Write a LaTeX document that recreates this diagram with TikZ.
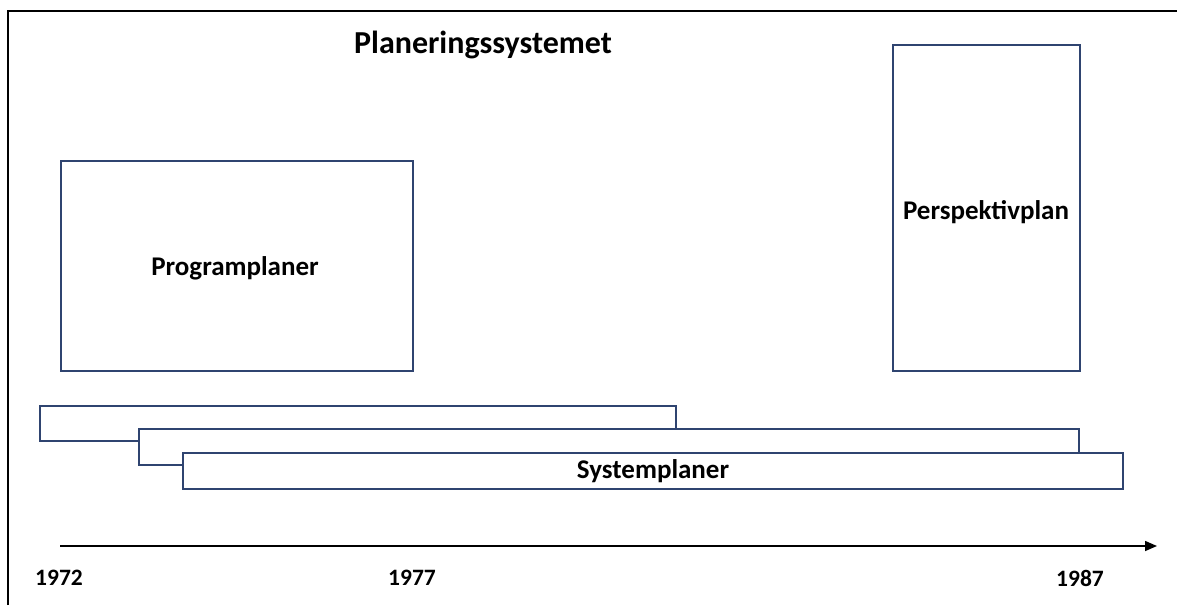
\documentclass[tikz,border=0pt]{standalone}
\usepackage{fontspec}
\setmainfont{Carlito}
\usetikzlibrary{arrows.meta}
\definecolor{boxblue}{HTML}{2F4470}
\tikzset{
  planbox/.style={draw=boxblue, line width=1.5pt, fill=white, inner sep=0pt, anchor=north west},
  lbl/.style={font=\bfseries\fontsize{27}{32}\selectfont, inner sep=0pt},
  yr/.style={font=\bfseries\fontsize{23.5}{28}\selectfont, inner sep=0pt},
}
\begin{document}
\begin{tikzpicture}[x=1pt,y=-1pt]
\useasboundingbox (0,0) rectangle (1177,605);
\draw[line width=2pt] (8,605) -- (8,11) -- (1177,11);
\node[font=\bfseries\fontsize{32}{38}\selectfont, inner sep=0pt] (title) at (483,45) {Planeringssystemet};
\node[planbox, minimum width=352pt, minimum height=210pt] (prog) at (60,160) {};
\node[lbl] (progl) at (235,268) {Programplaner};
\node[planbox, minimum width=187pt, minimum height=326pt] (persp) at (892,44) {};
\node[lbl] (perspl) at (986,212) {Perspektivplan};
\node[planbox, minimum width=636pt, minimum height=35pt] (bar1) at (39,405) {};
\node[planbox, minimum width=940pt, minimum height=36pt] (bar2) at (138,428) {};
\node[planbox, minimum width=940pt, minimum height=36pt] (bar3) at (182,452) {};
\node[lbl] (sysl) at (653,471) {Systemplaner};
\coordinate (a0) at (60,546);
\coordinate (a1) at (1157,546);
\draw[line width=1.5pt, -{Triangle[length=12pt,width=10pt]}] (a0) -- (a1);
\node[yr] (y72) at (59,578) {1972};
\node[yr] (y77) at (412,578) {1977};
\node[yr] (y87) at (1080,578) {1987};
\end{tikzpicture}
\end{document}
